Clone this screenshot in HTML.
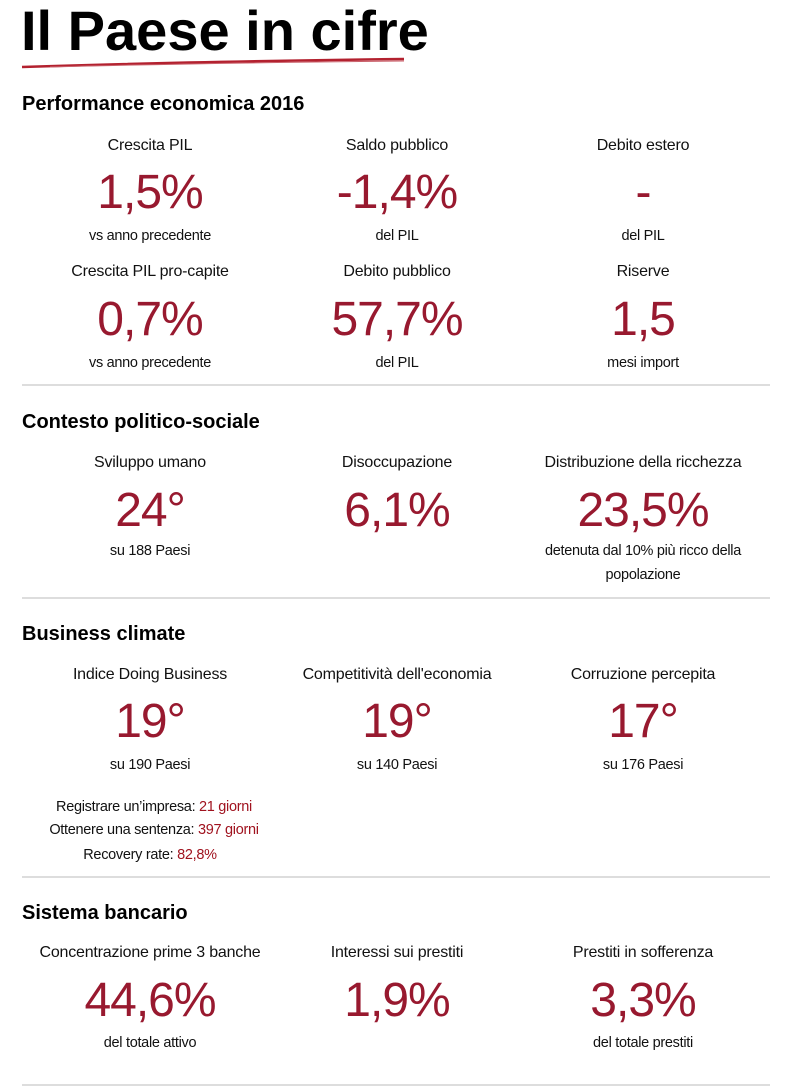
<!DOCTYPE html>
<html><head><meta charset="utf-8"><style>
body{margin:0;width:800px;height:1089px;background:#fff;position:relative;overflow:hidden;font-family:"Liberation Sans",Arial,sans-serif;color:#111}
.a{position:absolute;white-space:nowrap}
.t{left:21px;top:1px;font-size:56px;font-weight:bold;line-height:60px;letter-spacing:0;color:#000}
.h{left:22px;font-size:20px;font-weight:bold;line-height:24px;color:#000}
.c{width:300px;text-align:center;transform:translateX(-150px)}
.l{font-size:16px;line-height:20px;letter-spacing:-0.2px}
.s{font-size:14.5px;line-height:20px;letter-spacing:-0.3px}
.v{font-size:48px;line-height:54px;color:#98192f;letter-spacing:-1px}
.r{color:#a0131f}
.hr{position:absolute;left:22px;width:748px;height:2px;background:#ddd}
</style></head><body>
<div class="a t">Il Paese in cifre</div>
<svg class="a" style="left:20px;top:56px" width="386" height="14"><path d="M2 11 Q150 6 384 3" stroke="#b3212f" stroke-width="2.5" fill="none"/><path d="M30 11 Q180 7 384 5" stroke="#c9606a" stroke-width="1" fill="none"/></svg>

<div class="a h" style="top:92px">Performance economica 2016</div>
<div class="a c l" style="left:150px;top:136px">Crescita PIL</div>
<div class="a c l" style="left:397px;top:136px">Saldo pubblico</div>
<div class="a c l" style="left:643px;top:136px">Debito estero</div>
<div class="a c v" style="left:150px;top:166px">1,5%</div>
<div class="a c v" style="left:397px;top:166px">-1,4%</div>
<div class="a c v" style="left:643px;top:166px">-</div>
<div class="a c s" style="left:150px;top:226px">vs anno precedente</div>
<div class="a c s" style="left:397px;top:226px">del PIL</div>
<div class="a c s" style="left:643px;top:226px">del PIL</div>
<div class="a c l" style="left:150px;top:262px">Crescita PIL pro-capite</div>
<div class="a c l" style="left:397px;top:262px">Debito pubblico</div>
<div class="a c l" style="left:643px;top:262px">Riserve</div>
<div class="a c v" style="left:150px;top:293px">0,7%</div>
<div class="a c v" style="left:397px;top:293px">57,7%</div>
<div class="a c v" style="left:643px;top:293px">1,5</div>
<div class="a c s" style="left:150px;top:353px">vs anno precedente</div>
<div class="a c s" style="left:397px;top:353px">del PIL</div>
<div class="a c s" style="left:643px;top:353px">mesi import</div>
<div class="hr" style="top:384px"></div>

<div class="a h" style="top:410px">Contesto politico-sociale</div>
<div class="a c l" style="left:150px;top:453px">Sviluppo umano</div>
<div class="a c l" style="left:397px;top:453px">Disoccupazione</div>
<div class="a c l" style="left:643px;top:453px">Distribuzione della ricchezza</div>
<div class="a c v" style="left:150px;top:484px">24°</div>
<div class="a c v" style="left:397px;top:484px">6,1%</div>
<div class="a c v" style="left:643px;top:484px">23,5%</div>
<div class="a c s" style="left:150px;top:541px">su 188 Paesi</div>
<div class="a c s" style="left:643px;top:541px">detenuta dal 10% più ricco della</div>
<div class="a c s" style="left:643px;top:565px">popolazione</div>
<div class="hr" style="top:597px"></div>

<div class="a h" style="top:622px">Business climate</div>
<div class="a c l" style="left:150px;top:665px">Indice Doing Business</div>
<div class="a c l" style="left:397px;top:665px">Competitività dell'economia</div>
<div class="a c l" style="left:643px;top:665px">Corruzione percepita</div>
<div class="a c v" style="left:150px;top:695px">19°</div>
<div class="a c v" style="left:397px;top:695px">19°</div>
<div class="a c v" style="left:643px;top:695px">17°</div>
<div class="a c s" style="left:150px;top:755px">su 190 Paesi</div>
<div class="a c s" style="left:397px;top:755px">su 140 Paesi</div>
<div class="a c s" style="left:643px;top:755px">su 176 Paesi</div>
<div class="a c s" style="left:154px;top:797px">Registrare un’impresa: <span class="r">21 giorni</span></div>
<div class="a c s" style="left:154px;top:820px">Ottenere una sentenza: <span class="r">397 giorni</span></div>
<div class="a c s" style="left:150px;top:845px">Recovery rate: <span class="r">82,8%</span></div>
<div class="hr" style="top:876px"></div>

<div class="a h" style="top:901px">Sistema bancario</div>
<div class="a c l" style="left:150px;top:943px">Concentrazione prime 3 banche</div>
<div class="a c l" style="left:397px;top:943px">Interessi sui prestiti</div>
<div class="a c l" style="left:643px;top:943px">Prestiti in sofferenza</div>
<div class="a c v" style="left:150px;top:974px">44,6%</div>
<div class="a c v" style="left:397px;top:974px">1,9%</div>
<div class="a c v" style="left:643px;top:974px">3,3%</div>
<div class="a c s" style="left:150px;top:1033px">del totale attivo</div>
<div class="a c s" style="left:643px;top:1033px">del totale prestiti</div>
<div class="hr" style="top:1084px"></div>
</body></html>
